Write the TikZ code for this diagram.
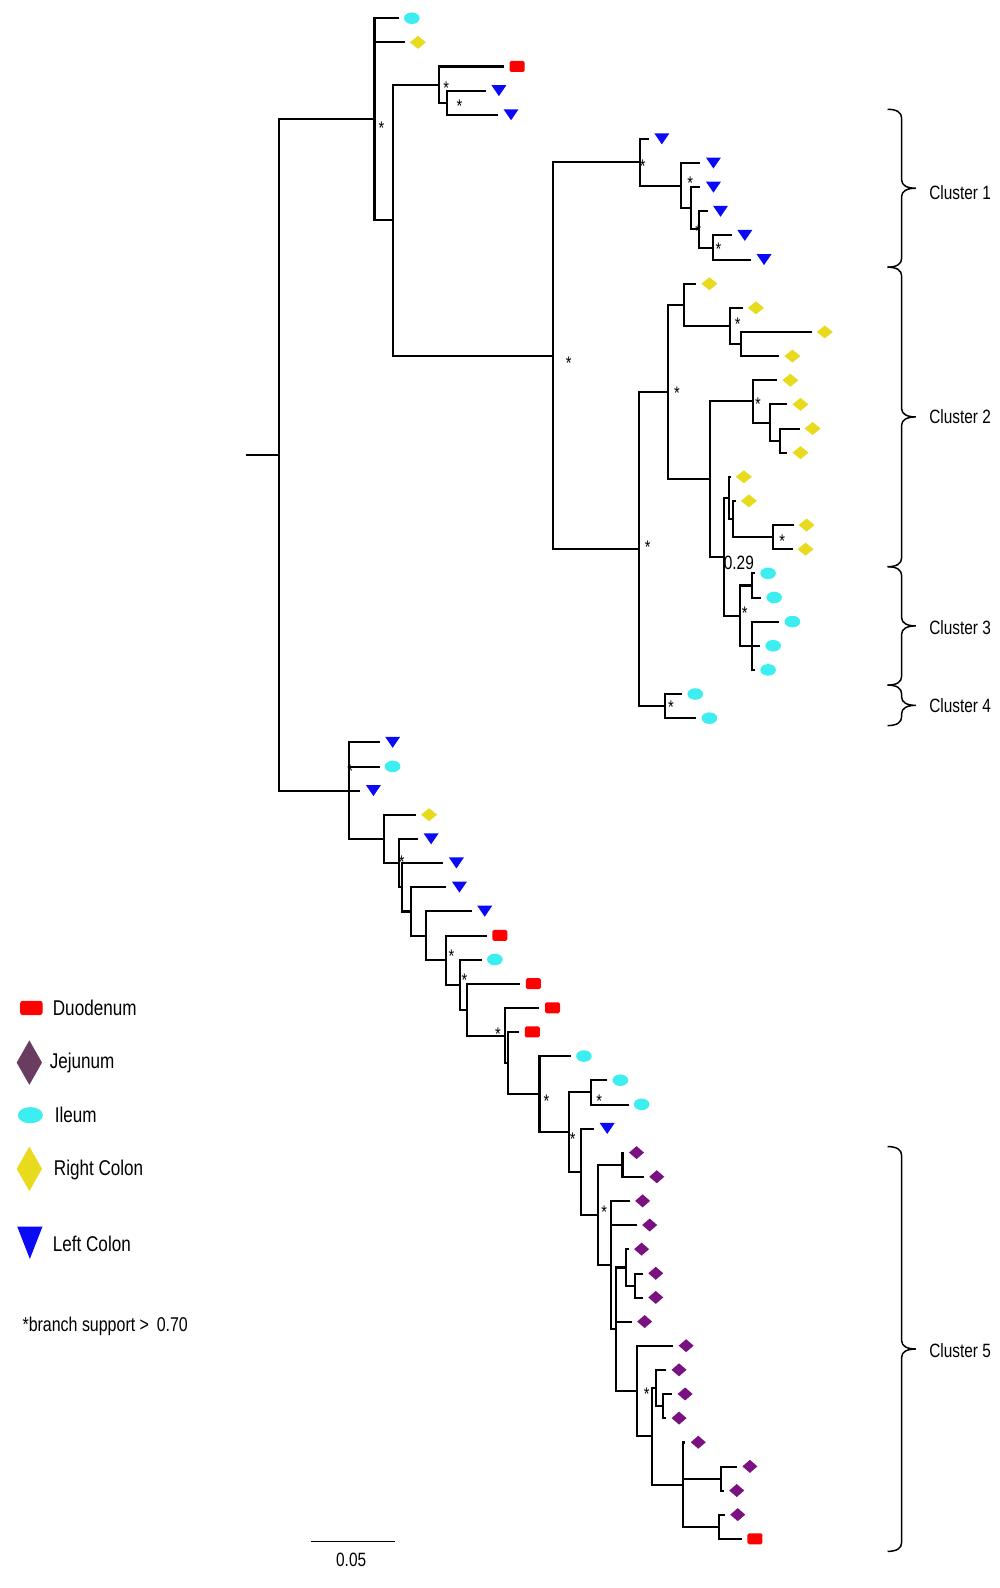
\documentclass[tikz,border=0pt]{standalone}
\usepackage{fontspec}
\setmainfont[FakeStretch=0.8]{Liberation Sans}
\usepackage{tikz}

\definecolor{duored}{HTML}{FF0000}
\definecolor{jepurple}{HTML}{7A1180}
\definecolor{jelegend}{HTML}{693C60}
\definecolor{ilcyan}{HTML}{3CEEF0}
\definecolor{rcyellow}{HTML}{E8DA1C}
\definecolor{lcblue}{HTML}{0A0AF5}

\tikzset{
  branch/.style={line width=1.45pt},
  supp/.style={inner sep=0pt, font=\fontsize{13}{13}\selectfont, yshift=-1mm},
  cltext/.style={anchor=west, inner sep=0pt, text height=9.8pt, text depth=0pt,
    font=\fontsize{13.7}{16}\selectfont},
  lgtext/.style={anchor=west, inner sep=0pt, text height=10.8pt, text depth=0pt,
    font=\fontsize{15.2}{18}\selectfont},
  clbrace/.style={line width=1.05pt},
  du/.pic={\fill[duored, rounded corners=0.4mm] (-7.5,-5.5) rectangle (7.5,5.5);},
  il/.pic={\fill[ilcyan] (0,0) ellipse [x radius=1.95mm, y radius=1.45mm];},
  rc/.pic={\fill[rcyellow] (-8,0) -- (0,-6.5) -- (8,0) -- (0,6.5) -- cycle;},
  je/.pic={\fill[jepurple] (-7.5,0) -- (0,-6.5) -- (7.5,0) -- (0,6.5) -- cycle;},
  lc/.pic={\fill[lcblue] (-7.5,-5.5) -- (7.5,-5.5) -- (0,5.5) -- cycle;}
}

\begin{document}
\begin{tikzpicture}[x=0.25mm, y=-0.25mm, scale=1.012,
    declare function={ly(\t)=18+(\t-1)*23.85;}]
  \useasboundingbox (0,0) rectangle (988.1,1569.2);

  % leaves: index/marker x/kind
  \foreach \j/\mk/\kind in
  {1/407/il,2/413/rc,3/511/du,4/493/lc,5/505/lc,
   6/654/lc,7/705/lc,8/705/lc,9/712/lc,10/736/lc,11/755/lc,
   12/701/rc,13/747/rc,14/815/rc,15/783/rc,16/781/rc,17/791/rc,18/803/rc,19/791/rc,
   20/735/rc,21/740/rc,22/797/rc,23/796/rc,
   24/759/il,25/765/il,26/783/il,27/764/il,28/759/il,29/687/il,30/701/il,
   31/388/lc,32/388/il,33/369/lc,34/424/rc,35/426/lc,36/451/lc,37/454/lc,38/479/lc,
   39/494/du,40/489/il,41/527/du,42/546/du,43/526/du,
   44/577/il,45/613/il,46/634/il,47/600/lc,
   48/629/je,49/649/je,50/635/je,51/642/je,52/634/je,53/648/je,54/648/je,55/637/je,
   56/678/je,57/671/je,58/677/je,59/671/je,60/690/je,61/741/je,62/728/je,63/729/je,
   64/746/du}
  {
    \coordinate (l\j) at (\mk-13,{ly(\j)});
    \pic at (\mk,{ly(\j)}) {\kind};
  }

  % inner nodes: name/x/position
  \foreach \nm/\xx/\kk in
  {root/276/19.09,A/370/5.183,B/388/9.365,C/434/3.75,E/442/4.5,
   D/546/14.98,F/632/6.969,H/673/7.9375,I/683/8.875,J/691/9.75,K/704/10.5,
   G/631/22.992,M/657/29.5,L/660/16.484,N/676/12.875,P/721/13.75,Q/732/14.5,
   O/701/20.094,R/744/16.875,T/761/17.75,U/771/18.5,
   S/715/23.3125,V/720/20.875,V2/724/21.75,X/764/22.5,W/731/25.75,Z/743/24.5,AA/743/27,
   BB/345/33,CC/379/35,DD/394/36,DD2/397/37,EE/406/38.004,FF/421/39.009,
   GG/441/40.018,HH/454/41.036,II/461/42.072,JJ/499/43.143,KK/502/44.286,
   LL/533/45.572,MM/562/47.145,NN/584/45.5,OO/574/48.789,PP/591/50.578,
   QQ/615/48.5,RR/604/52.656,R2/609/55.3125,SS/618/52.75,TT/627/53.5,
   R3/629/57.875,R4/644/59.75,UU/648/57.75,VV/655/58.5,WW/675/61.75,
   XX/712/61.5,YY/710/63.5}
  {
    \coordinate (\nm) at (\xx,{ly(\kk)});
  }

  \coordinate (stem) at (243,{ly(19.09)});
  \draw[branch] (stem) -- (root);

  % branches
  \foreach \pa/\ch in
  {root/A,root/BB,A/l1,A/l2,A/B,B/C,B/D,C/l3,C/E,E/l4,E/l5,
   D/F,D/G,F/l6,F/H,H/l7,H/I,I/l8,I/J,J/l9,J/K,K/l10,K/l11,
   G/L,G/M,M/l29,M/l30,L/N,L/O,N/l12,N/P,P/l13,P/Q,Q/l14,Q/l15,
   O/R,O/S,R/l16,R/T,T/l17,T/U,U/l18,U/l19,
   S/V,S/W,V/l20,V/V2,V2/l21,V2/X,X/l22,X/l23,
   W/Z,W/AA,Z/l24,Z/l25,AA/l26,AA/l27,AA/l28,
   BB/l31,BB/l32,BB/l33,BB/CC,CC/l34,CC/DD,DD/l35,DD/DD2,DD2/l36,DD2/EE,
   EE/l37,EE/FF,FF/l38,FF/GG,GG/l39,GG/HH,HH/l40,HH/II,II/l41,II/JJ,
   JJ/l42,JJ/KK,KK/l43,KK/LL,LL/l44,LL/MM,MM/NN,MM/OO,NN/l45,NN/l46,
   OO/l47,OO/PP,PP/QQ,PP/RR,QQ/l48,QQ/l49,RR/l50,RR/l51,RR/R2,
   R2/SS,R2/l55,R2/R3,SS/l52,SS/TT,TT/l53,TT/l54,R3/l56,R3/R4,
   R4/UU,R4/WW,UU/l57,UU/VV,VV/l58,VV/l59,WW/l60,WW/XX,WW/YY,
   XX/l61,XX/l62,YY/l63,YY/l64}
  {
    \draw[branch] (\pa) |- (\ch);
  }

  % branch support
  \foreach \xx/\yy [count=\s] in
  {377/123,441/83,454/101,562/355,635/160,682/177,690/225,710/242,729/316,
   640/537,669/385,749/395,773/531,736/602,663/695,
   346/758,397/848,446/941,459/965,492/1018,540/1084,566/1122,592/1084,
   597/1194,639/1374}
  {
    \node[supp] (s\s) at (\xx,\yy) {*};
  }
  \node[cltext] (v29) at (715,556) {0.29};

  % clusters
  \foreach \ya/\yb/\ty/\q in
  {108/264/190/1,264/560/412/2,560/677/620/3,677/717/697/4,1133/1533/1335/5}
  {
    \pgfmathsetmacro\ym{(\ya+\yb)/2}
    \draw[clbrace] (877,\ya) .. controls (886,\ya) and (891,\ya+3) .. (891,\ya+9)
      -- (891,\ym-8) .. controls (891,\ym-3) and (896,\ym) .. (905,\ym)
      .. controls (896,\ym) and (891,\ym+3) .. (891,\ym+8)
      -- (891,\yb-9) .. controls (891,\yb-3) and (886,\yb) .. (877,\yb);
    \node[cltext] (cl\q) at (918,\ty) {Cluster \q};
  }

  % legend
  \fill[duored, rounded corners=0.6mm] (20,989) rectangle (42,1003);
  \fill[jelegend] (29,1028) -- (41.5,1050) -- (29,1072) -- (16.5,1050) -- cycle;
  \fill[ilcyan] (30,1102) ellipse [x radius=3.1mm, y radius=2mm];
  \fill[rcyellow] (29,1133) -- (41.5,1155) -- (29,1177) -- (16.5,1155) -- cycle;
  \fill[lcblue] (17,1212) -- (42,1212) -- (29.5,1244) -- cycle;
  \node[lgtext] (tduo) at (52,996) {Duodenum};
  \node[lgtext] (tjej) at (49,1048) {Jejunum};
  \node[lgtext] (tile) at (54,1102) {Ileum};
  \node[lgtext] (trco) at (53,1154) {Right Colon};
  \node[lgtext] (tlco) at (52,1229) {Left Colon};
  \node[lgtext, font=\fontsize{14.2}{16}\selectfont, text height=10.1pt] (tsup)
    at (22,1309) {*branch support > \,0.70};

  % scale bar
  \coordinate (sb1) at (307,1523);
  \coordinate (sb2) at (390,1523);
  \draw[line width=1.1pt] (sb1) -- (sb2);
  \node[cltext, anchor=center] (sbl) at (347,1541) {0.05};
\end{tikzpicture}
\end{document}
